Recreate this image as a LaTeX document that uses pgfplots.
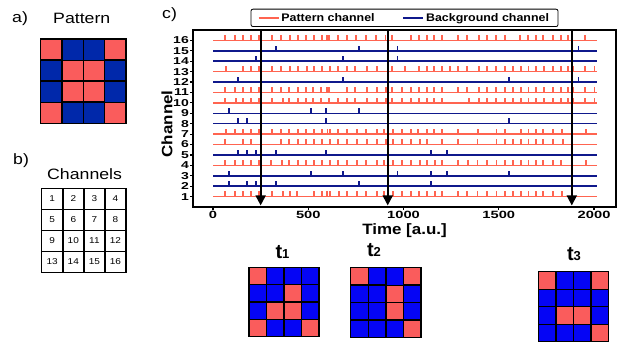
\documentclass[border=0pt]{standalone}
\usepackage{pgfplots}
\pgfplotsset{compat=1.18}
\usetikzlibrary{arrows.meta}
\usepackage{fontspec}
\setmainfont{Liberation Sans}
\newfontfamily\labf{Liberation Sans}[FakeStretch=1.18]
\newfontfamily\axf{Liberation Sans}[FakeStretch=1.13]
\newfontfamily\tickf{Liberation Sans}[FakeStretch=1.4]
\definecolor{lred}{RGB}{255,100,80}
\definecolor{lblue}{RGB}{15,25,140}
\definecolor{pred}{RGB}{250,92,92}
\definecolor{pblue}{RGB}{0,40,170}
\definecolor{tblue}{RGB}{5,5,245}
\pgfplotsset{
  gridax/.style={scale only axis, hide axis, clip=false, xmin=0.5, xmax=4.5, ymin=0.5, ymax=4.5, y dir=reverse, anchor=north west},
  redspk/.style={lred, line width=1.9pt, quiver={u=0,v=0.5}, forget plot},
  bluespk/.style={lblue, line width=1.9pt, quiver={u=0,v=0.5}, forget plot},
  redbase/.style={lred, line width=1.5pt, forget plot},
  bluebase/.style={lblue, line width=1.5pt, forget plot},
  arr/.style={black, line width=1.8pt, -{Triangle[width=10pt,length=10pt]}, forget plot},
}
\begin{document}
\begin{tikzpicture}
\useasboundingbox (0,0) rectangle (628pt,-347pt);
% panel labels
\node[anchor=base west, inner sep=0pt, font=\labf\fontsize{15}{15}\selectfont] at (12pt,-23pt) {a)};
\node[anchor=base west, inner sep=0pt, font=\labf\fontsize{15}{15}\selectfont] at (53pt,-24pt) {Pattern};
\node[anchor=base west, inner sep=0pt, font=\labf\fontsize{15}{15}\selectfont] at (13pt,-165pt) {b)};
\node[anchor=base west, inner sep=0pt, font=\labf\fontsize{15}{15}\selectfont] at (47pt,-180pt) {Channels};
\node[anchor=base west, inner sep=0pt, font=\labf\fontsize{15}{15}\selectfont] at (162pt,-18.3pt) {c)};

% pattern grid
\begin{axis}[gridax, at={(40.7pt,-39.3pt)}, width=85.3pt, height=84pt]
\addplot[only marks, mark=square*, mark size=10.65pt, mark options={fill=pred, draw=black, line width=1.5pt}] table[row sep=\\] {x y\\ 1 1\\ 4 1\\ 2 2\\ 3 2\\ 2 3\\ 3 3\\ 1 4\\ 4 4\\};
\addplot[only marks, mark=square*, mark size=10.65pt, mark options={fill=pblue, draw=black, line width=1.5pt}] table[row sep=\\] {x y\\ 2 1\\ 3 1\\ 1 2\\ 4 2\\ 1 3\\ 4 3\\ 2 4\\ 3 4\\};
\end{axis}

% channel grid
\begin{axis}[gridax, at={(41.7pt,-188.3pt)}, width=84.3pt, height=84pt]
\addplot[only marks, mark=square, mark size=10.5pt, mark options={draw=black, line width=1.5pt},
  nodes near coords, point meta=explicit symbolic, nodes near coords align=center,
  every node near coord/.append style={font=\labf\fontsize{8.5}{8.5}\selectfont, inner sep=0pt}]
  table[meta=n, row sep=\\] {x y n\\ 1 1 1\\ 2 1 2\\ 3 1 3\\ 4 1 4\\ 1 2 5\\ 2 2 6\\ 3 2 7\\ 4 2 8\\ 1 3 9\\ 2 3 10\\ 3 3 11\\ 4 3 12\\ 1 4 13\\ 2 4 14\\ 3 4 15\\ 4 4 16\\};
\end{axis}

% main raster axis
\begin{axis}[
  at={(193pt,-207pt)}, anchor=south west, scale only axis, width=423pt, height=177pt,
  xmin=-105, xmax=2115, ymin=0, ymax=17,
  xtick={0,500,1000,1500,2000}, xticklabels={0,500,1000,1500,2000},
  ytick={1,2,3,4,5,6,7,8,9,10,11,12,13,14,15,16},
  yticklabels={1,2,3,4,5,6,7,8,9,10,11,12,13,14,15,16},
  tick align=outside, xtick pos=bottom, ytick pos=left,
  major tick length=3pt,
  tick style={black, line width=1.2pt},
  axis line style={line width=1.5pt},
  xticklabel style={font=\tickf\bfseries\fontsize{10.5}{10.5}\selectfont, inner sep=1pt},
  yticklabel style={font=\tickf\bfseries\fontsize{10}{10}\selectfont, inner sep=1pt},
  xlabel={Time [a.u.]}, ylabel={Channel},
  every axis x label/.style={at={(axis description cs:0.5,-0.1356)}, anchor=center, font=\axf\bfseries\fontsize{15}{15}\selectfont},
  every axis y label/.style={at={(axis description cs:-0.0615,0.47)}, anchor=center, rotate=90, font=\axf\bfseries\fontsize{15}{15}\selectfont},
  legend columns=2,
  legend image code/.code={\draw[#1] (0pt,0pt) -- (20pt,0pt);},
  legend style={at={(0.5,1)}, anchor=south, yshift=3pt, draw=black, line width=0.8pt, rounded corners=2pt,
    font=\axf\bfseries\fontsize{11}{11}\selectfont, inner xsep=7pt, inner ysep=2pt,
    /tikz/every even column/.append style={column sep=26pt}},
]
\addlegendimage{lred, line width=1.4pt}
\addlegendentry{Pattern channel}
\addlegendimage{lblue, line width=1.4pt}
\addlegendentry{Background channel}

% channel 16 (pattern)
\addplot[redbase] coordinates {(0,16) (2015,16)};
\addplot[redspk] coordinates {(63,16)(115,16)(157,16)(198,16)(241,16)(308,16)(356,16)(402,16)(444,16)(487,16)(528,16)(570,16)(600,16)(610,16)(658,16)(704,16)(750,16)(805,16)(855,16)(905,16)(941,16)(1039,16)(1082,16)(1124,16)(1162,16)(1202,16)(1288,16)(1334,16)(1395,16)(1437,16)(1485,16)(1533,16)(1613,16)(1655,16)(1694,16)(1734,16)(1785,16)(1828,16)(1865,16)(1953,16)};
% channel 15 (background)
\addplot[bluebase] coordinates {(0,15) (2015,15)};
\addplot[bluespk] coordinates {(330,15)(767,15)(968,15)(1918,15)};
% channel 14
\addplot[bluebase] coordinates {(0,14) (2015,14)};
\addplot[bluespk] coordinates {(224,14)(680,14)(968,14)};
% channel 13
\addplot[redbase] coordinates {(0,13) (2015,13)};
\addplot[redspk] coordinates {(66,13)(156,13)(198,13)(241,13)(308,13)(357,13)(404,13)(448,13)(492,13)(530,13)(574,13)(614,13)(655,13)(702,13)(745,13)(807,13)(859,13)(941,13)(1008,13)(1081,13)(1122,13)(1162,13)(1204,13)(1244,13)(1288,13)(1334,13)(1396,13)(1437,13)(1484,13)(1533,13)(1576,13)(1615,13)(1656,13)(1694,13)(1738,13)(1783,13)(1825,13)(1865,13)(1891,13)(1953,13)(2002,13)};
% channel 12
\addplot[bluebase] coordinates {(0,12) (2015,12)};
\addplot[bluespk] coordinates {(133,12)(680,12)(1554,12)(1918,12)};
% channel 11
\addplot[redbase] coordinates {(0,11) (2015,11)};
\addplot[redspk] coordinates {(63,11)(115,11)(156,11)(198,11)(241,11)(308,11)(357,11)(400,11)(445,11)(488,11)(527,11)(567,11)(597,11)(609,11)(702,11)(745,11)(807,11)(859,11)(907,11)(941,11)(990,11)(1039,11)(1081,11)(1122,11)(1162,11)(1204,11)(1288,11)(1334,11)(1394,11)(1437,11)(1484,11)(1533,11)(1576,11)(1615,11)(1656,11)(1694,11)(1738,11)(1783,11)(1825,11)(1865,11)(1891,11)(1953,11)(2002,11)};
% channel 10
\addplot[redbase] coordinates {(0,10) (2015,10)};
\addplot[redspk] coordinates {(63,10)(121,10)(156,10)(198,10)(241,10)(308,10)(369,10)(400,10)(445,10)(488,10)(527,10)(567,10)(609,10)(655,10)(702,10)(745,10)(807,10)(859,10)(907,10)(941,10)(990,10)(1039,10)(1081,10)(1122,10)(1162,10)(1204,10)(1344,10)(1396,10)(1437,10)(1484,10)(1533,10)(1576,10)(1615,10)(1656,10)(1694,10)(1738,10)(1783,10)(1825,10)(1865,10)(1891,10)(1953,10)(2002,10)};
% channel 9
\addplot[bluebase] coordinates {(0,9) (2015,9)};
\addplot[bluespk] coordinates {(84,9)(513,9)(593,9)(767,9)};
% channel 8
\addplot[bluebase] coordinates {(0,8) (2015,8)};
\addplot[bluespk] coordinates {(133,8)(177,8)(593,8)(1554,8)};
% channel 7
\addplot[redbase] coordinates {(0,7) (2015,7)};
\addplot[redspk] coordinates {(66,7)(115,7)(156,7)(198,7)(241,7)(308,7)(357,7)(398,7)(444,7)(487,7)(531,7)(572,7)(601,7)(614,7)(658,7)(705,7)(754,7)(803,7)(859,7)(898,7)(945,7)(990,7)(1038,7)(1078,7)(1122,7)(1160,7)(1204,7)(1288,7)(1393,7)(1488,7)(1533,7)(1615,7)(1656,7)(1694,7)(1734,7)(1786,7)(1830,7)(1956,7)};
% channel 6
\addplot[redbase] coordinates {(0,6) (2015,6)};
\addplot[redspk] coordinates {(63,6)(156,6)(200,6)(357,6)(400,6)(444,6)(487,6)(529,6)(572,6)(614,6)(658,6)(705,6)(754,6)(807,6)(862,6)(907,6)(943,6)(990,6)(1038,6)(1087,6)(1122,6)(1200,6)(1288,6)(1388,6)(1488,6)(1533,6)(1573,6)(1615,6)(1656,6)(1694,6)(1734,6)(1786,6)(1835,6)};
% channel 5
\addplot[bluebase] coordinates {(0,5) (2015,5)};
\addplot[bluespk] coordinates {(133,5)(177,5)(224,5)(331,5)(593,5)(1142,5)(1230,5)};
% channel 4
\addplot[redbase] coordinates {(0,4) (2015,4)};
\addplot[redspk] coordinates {(63,4)(115,4)(156,4)(198,4)(241,4)(305,4)(360,4)(400,4)(445,4)(488,4)(532,4)(574,4)(614,4)(658,4)(705,4)(754,4)(803,4)(859,4)(898,4)(943,4)(990,4)(1038,4)(1087,4)(1122,4)(1165,4)(1204,4)(1288,4)(1340,4)(1388,4)(1440,4)(1488,4)(1533,4)(1576,4)(1615,4)(1656,4)(1694,4)(1734,4)(1786,4)(1825,4)(1956,4)};
% channel 3
\addplot[bluebase] coordinates {(0,3) (2015,3)};
\addplot[bluespk] coordinates {(84,3)(513,3)(681,3)(968,3)(1142,3)(1230,3)(1554,3)};
% channel 2
\addplot[bluebase] coordinates {(0,2) (2015,2)};
\addplot[bluespk] coordinates {(84,2)(177,2)(224,2)(331,2)(768,2)(1142,2)};
% channel 1
\addplot[redbase] coordinates {(0,1) (2015,1)};
\addplot[redspk] coordinates {(63,1)(115,1)(156,1)(198,1)(241,1)(308,1)(369,1)(404,1)(443,1)(530,1)(574,1)(600,1)(614,1)(661,1)(705,1)(754,1)(803,1)(859,1)(898,1)(943,1)(990,1)(1038,1)(1083,1)(1122,1)(1165,1)(1204,1)(1288,1)(1335,1)(1388,1)(1440,1)(1488,1)(1533,1)(1573,1)(1615,1)(1656,1)(1694,1)(1734,1)(1786,1)(1830,1)};
% time markers
\addplot[arr] coordinates {(250,17) (250,0.15)};
\addplot[arr] coordinates {(917,17) (917,0.15)};
\addplot[arr] coordinates {(1883,17) (1883,0.15)};
\end{axis}

% time labels
\node[anchor=base, inner sep=0pt, font=\bfseries\fontsize{20}{20}\selectfont] at (282.5pt,-258.3pt) {t{\fontsize{13}{13}\selectfont 1}};
\node[anchor=base, inner sep=0pt, font=\bfseries\fontsize{20}{20}\selectfont] at (374pt,-256.7pt) {t{\fontsize{13}{13}\selectfont 2}};
\node[anchor=base, inner sep=0pt, font=\bfseries\fontsize{20}{20}\selectfont] at (574pt,-260pt) {t{\fontsize{13}{13}\selectfont 3}};

% t1 grid
\begin{axis}[gridax, at={(249pt,-267.3pt)}, width=70pt, height=69.4pt]
\addplot[only marks, mark=square*, mark size=8.7pt, mark options={fill=pred, draw=black, line width=1.3pt}] table[row sep=\\] {x y\\ 1 1\\ 3 2\\ 2 3\\ 3 3\\ 1 4\\ 4 4\\};
\addplot[only marks, mark=square*, mark size=8.7pt, mark options={fill=tblue, draw=black, line width=1.3pt}] table[row sep=\\] {x y\\ 2 1\\ 3 1\\ 4 1\\ 1 2\\ 2 2\\ 4 2\\ 1 3\\ 4 3\\ 2 4\\ 3 4\\};
\end{axis}
% t2 grid
\begin{axis}[gridax, at={(350.7pt,-267.7pt)}, width=70.3pt, height=69.6pt]
\addplot[only marks, mark=square*, mark size=8.75pt, mark options={fill=pred, draw=black, line width=1.3pt}] table[row sep=\\] {x y\\ 1 1\\ 4 1\\ 3 2\\ 3 3\\ 4 4\\};
\addplot[only marks, mark=square*, mark size=8.75pt, mark options={fill=tblue, draw=black, line width=1.3pt}] table[row sep=\\] {x y\\ 2 1\\ 3 1\\ 1 2\\ 2 2\\ 4 2\\ 1 3\\ 2 3\\ 4 3\\ 1 4\\ 2 4\\ 3 4\\};
\end{axis}
% t3 grid
\begin{axis}[gridax, at={(538.3pt,-271.7pt)}, width=70.4pt, height=70pt]
\addplot[only marks, mark=square*, mark size=8.8pt, mark options={fill=pred, draw=black, line width=1.3pt}] table[row sep=\\] {x y\\ 1 1\\ 4 1\\ 2 3\\ 3 3\\ 4 4\\};
\addplot[only marks, mark=square*, mark size=8.8pt, mark options={fill=tblue, draw=black, line width=1.3pt}] table[row sep=\\] {x y\\ 2 1\\ 3 1\\ 1 2\\ 2 2\\ 3 2\\ 4 2\\ 1 3\\ 4 3\\ 1 4\\ 2 4\\ 3 4\\};
\end{axis}
\end{tikzpicture}
\end{document}
